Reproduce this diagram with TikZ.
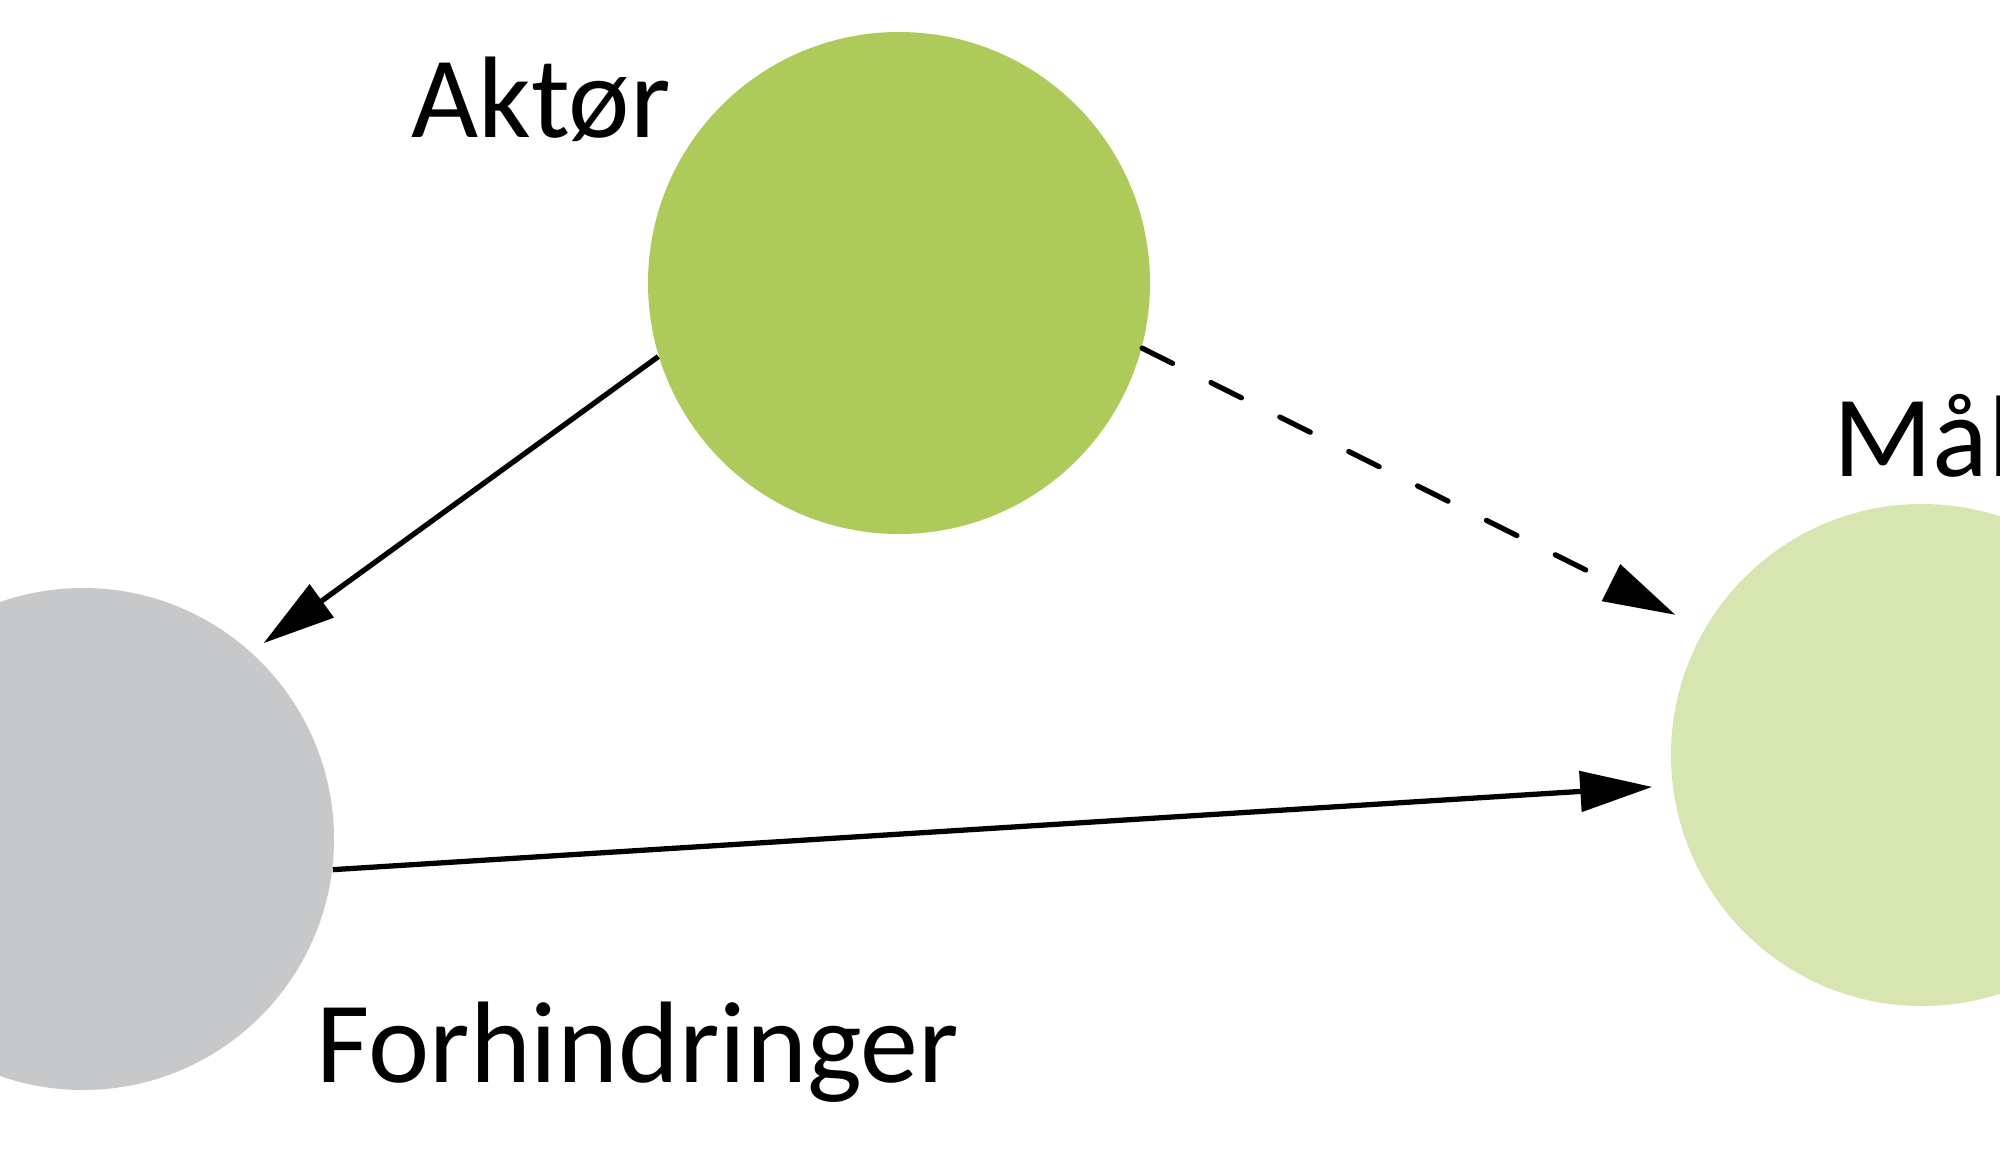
\documentclass[tikz,border=0pt]{standalone}
\usepackage{fontspec}
\setmainfont{Carlito}
\usetikzlibrary{arrows.meta}

\definecolor{aktgreen}{HTML}{ADCA5B}
\definecolor{maalgreen}{HTML}{D7E6B1}
\definecolor{hindgray}{HTML}{C7C8CA}

\tikzset{
  kule/.style={circle, minimum size=5.02cm, inner sep=0pt},
  pil/.style={line width=1.5pt, -{Triangle[length=0.72cm,width=0.4cm]}},
  etikett/.style={font=\fontsize{33pt}{33pt}\selectfont, inner sep=0pt}
}

\begin{document}
\begin{tikzpicture}
  \useasboundingbox (0,0) rectangle (20,11.65);
  \clip (0,0) rectangle (20,11.65);

  % Kuler
  \node [kule, fill=aktgreen] (akt) at (8.99,8.82) {};
  \node [kule, fill=hindgray] (hind) at (0.83,3.26) {};
  \node [kule, fill=maalgreen] (maal) at (19.22,4.10) {};

  % Tekster
  \node [etikett, anchor=base west] (aktlab) at (4.11,10.27) {Aktør};
  \node [etikett, anchor=base west] (maallab) at (18.33,6.89) {Mål};
  \node [etikett, anchor=base west] (hindlab) at (3.16,0.83) {Forhindringer};

  % Piler
  \draw [pil, shorten >=0.15cm] (akt.197) -- (hind.48);
  \draw [pil, line cap=round, dash pattern=on 0.34cm off 0.43cm, shorten >=0.32cm] (akt.-15) -- (maal.150);
  \draw [pil, shorten >=0.2cm] (hind.-7.5) -- (maal.187.5);
\end{tikzpicture}
\end{document}
